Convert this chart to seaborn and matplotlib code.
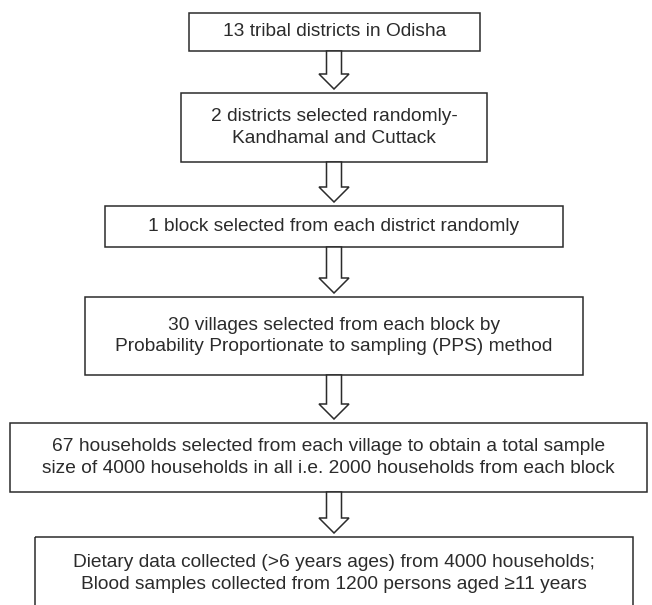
import matplotlib.pyplot as plt
import seaborn as sns
from matplotlib.patches import Rectangle, Polygon

# flowchart steps, top to bottom
steps = [
    "13 tribal districts in Odisha",
    "2 districts selected randomly-\nKandhamal and Cuttack",
    "1 block selected from each district randomly",
    "30 villages selected from each block by\nProbability Proportionate to sampling (PPS) method",
    "67 households selected from each village to obtain a total sample\nsize of 4000 households in all i.e. 2000 households from each block",
    "Dietary data collected (>6 years ages) from 4000 households;\nBlood samples collected from 1200 persons aged \u226511 years",
]

# box layout in pixel units (y grows downwards)
box_left = [189, 181, 105, 85, 10, 35]
box_right = [480, 487, 563, 583, 647, 633]
box_top = [13, 93, 206, 297, 423, 537]
box_bottom = [51, 162, 247, 375, 492, 610]

W, H = 652, 605
ink = "#2b2b2b"

sns.set_style("white")
plt.rcParams["font.family"] = ["Liberation Sans", "DejaVu Sans"]

fig = plt.figure(figsize=(W / 100, H / 100), dpi=100)
ax = fig.add_axes([0, 0, 1, 1])
ax.set_xlim(0, W)
ax.set_ylim(H, 0)
ax.axis("off")

cx = 334
for i, label in enumerate(steps):
    x0, x1 = box_left[i], box_right[i]
    y0, y1 = box_top[i], box_bottom[i]
    ax.add_patch(Rectangle((x0, y0), x1 - x0, y1 - y0, fill=False,
                           edgecolor=ink, linewidth=1.1))
    ax.text((x0 + x1) / 2, (y0 + y1) / 2, label, ha="center", va="center",
            fontsize=13.8, color=ink, linespacing=1.32)

    # hollow block arrow to the next box
    if i < len(steps) - 1:
        top = y1
        tip = box_top[i + 1] - 4
        neck = tip - 15
        sw, hw = 7.5, 15
        pts = [(cx - sw, top), (cx + sw, top), (cx + sw, neck), (cx + hw, neck),
               (cx, tip), (cx - hw, neck), (cx - sw, neck)]
        ax.add_patch(Polygon(pts, closed=True, facecolor="white",
                             edgecolor=ink, linewidth=1.1))

fig.savefig("out.png", dpi=100)
